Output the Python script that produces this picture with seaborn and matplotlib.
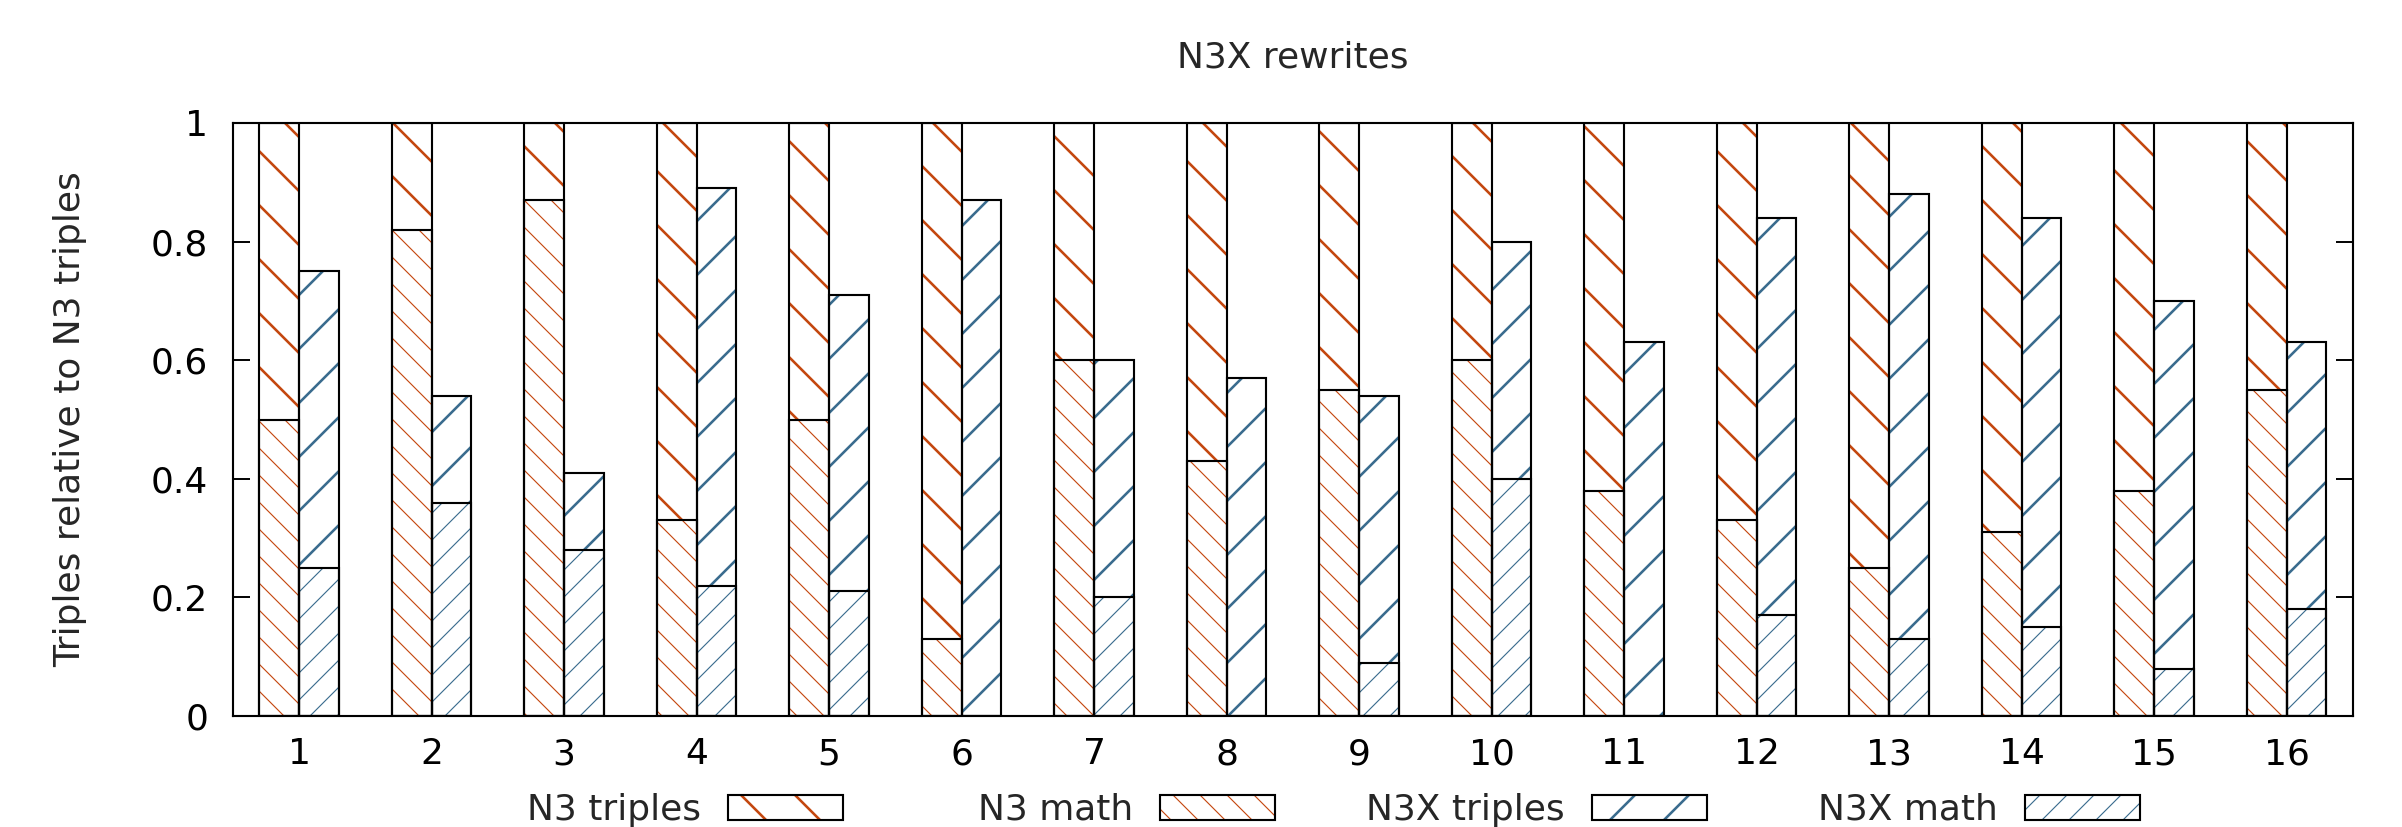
import pandas as pd
import matplotlib
matplotlib.use("Agg")
import matplotlib.pyplot as plt
from matplotlib.patches import Patch, Rectangle
from matplotlib.legend_handler import HandlerTuple
import seaborn as sns

groups = [str(i) for i in range(1, 17)]
n3_math = [0.50, 0.82, 0.87, 0.33, 0.50, 0.13, 0.60, 0.43, 0.55, 0.60, 0.38, 0.33, 0.25, 0.31, 0.38, 0.55]
n3_triples = [0.50, 0.18, 0.13, 0.67, 0.50, 0.87, 0.40, 0.57, 0.45, 0.40, 0.62, 0.67, 0.75, 0.69, 0.62, 0.45]
n3x_math = [0.25, 0.36, 0.28, 0.22, 0.21, 0.00, 0.20, 0.00, 0.09, 0.40, 0.00, 0.17, 0.13, 0.15, 0.08, 0.18]
n3x_triples = [0.50, 0.18, 0.13, 0.67, 0.50, 0.87, 0.40, 0.57, 0.45, 0.40, 0.63, 0.67, 0.75, 0.69, 0.62, 0.45]
series = ["N3 triples", "N3X triples", "N3 math", "N3X math"]

orange = "#c4470f"
blue = "#3a6c8e"

rows = []
for i, g in enumerate(groups):
    rows.append({"group": g, "bar": "N3", "math": n3_math[i], "total": n3_math[i] + n3_triples[i]})
    rows.append({"group": g, "bar": "N3X", "math": n3x_math[i], "total": n3x_math[i] + n3x_triples[i]})
df = pd.DataFrame(rows)

sns.set_style("white")
plt.rcParams["font.family"] = ["DejaVu Sans"]

# the hatch cell is one inch, so dpi sets the hatch spacing
DPI = 162
FS = 16
LW = 0.94
HLW_TRIPLES = 1.15
HLW_MATH = 0.5
fig = plt.figure(figsize=(2402 / DPI, 827 / DPI), dpi=DPI)
ax = fig.add_axes([232.75 / 2402, 1 - 716 / 827, 2120 / 2402, 593 / 827])

plt.rcParams["hatch.linewidth"] = HLW_TRIPLES
sns.barplot(data=df, x="group", y="total", hue="bar", palette=[orange, blue],
            width=0.6, dodge=True, errorbar=None, legend=False, ax=ax)
plt.rcParams["hatch.linewidth"] = HLW_MATH
sns.barplot(data=df, x="group", y="math", hue="bar", palette=[orange, blue],
            width=0.6, dodge=True, errorbar=None, legend=False, ax=ax)

# hatch styles: (color, pattern, hatch width) per container
styles = [
    (orange, "\\", HLW_TRIPLES),
    (blue, "/", HLW_TRIPLES),
    (orange, "\\\\", HLW_MATH),
    (blue, "//", HLW_MATH),
]
for cont, (col, h, hlw) in zip(ax.containers, styles):
    for p in cont:
        p.set_facecolor("white")
        p.set_edgecolor(col)
        p.set_linewidth(0)
        p.set_hatch(h)
        if hasattr(p, "set_hatch_linewidth"):
            p.set_hatch_linewidth(hlw)

for cont in list(ax.containers):
    for p in cont:
        ax.add_patch(Rectangle(p.get_xy(), p.get_width(), p.get_height(),
                               fill=False, edgecolor="black", linewidth=LW, zorder=2))

ax.set_ylim(0, 1)
ax.set_xlim(-0.5, len(groups) - 0.5)
ax.set_yticks([0, 0.2, 0.4, 0.6, 0.8, 1.0])
ax.set_yticklabels(["0", "0.2", "0.4", "0.6", "0.8", "1"])
ax.tick_params(axis="y", direction="in", length=7.4, width=0.86, pad=11,
               labelsize=FS, right=True, left=True, colors="black")
ax.tick_params(axis="x", length=0, pad=9.4, labelsize=FS, colors="black")
for s in ax.spines.values():
    s.set_visible(True)
    s.set_color("black")
    s.set_linewidth(LW)
    s.set_zorder(3)

ax.set_xlabel("")
ax.set_ylabel("Triples relative to N3 triples", fontsize=FS)
ax.yaxis.set_label_coords(-0.0688, 0.5)
ax.set_title("N3X rewrites", fontsize=FS, y=1.11, va="center", pad=0)

legend_order = [0, 2, 1, 3]
right_edges = [843, 1275, 1707, 2140]
for k, xr in zip(legend_order, right_edges):
    col, h, hlw = styles[k]
    plt.rcParams["hatch.linewidth"] = hlw
    hp = Patch(facecolor="white", edgecolor=col, hatch=h, linewidth=0)
    if hasattr(hp, "set_hatch_linewidth"):
        hp.set_hatch_linewidth(hlw)
    op = Patch(fill=False, edgecolor="black", linewidth=LW)
    fig.legend([(hp, op)], [series[k]], handler_map={tuple: HandlerTuple(ndivide=1)},
               loc="center right", bbox_to_anchor=(xr / 2402, 1 - 810 / 827),
               frameon=False, markerfirst=False, fontsize=FS, borderpad=0,
               borderaxespad=0, handlelength=3.2, handleheight=0.67, handletextpad=0.75)

fig.savefig("out.png", dpi=DPI)
